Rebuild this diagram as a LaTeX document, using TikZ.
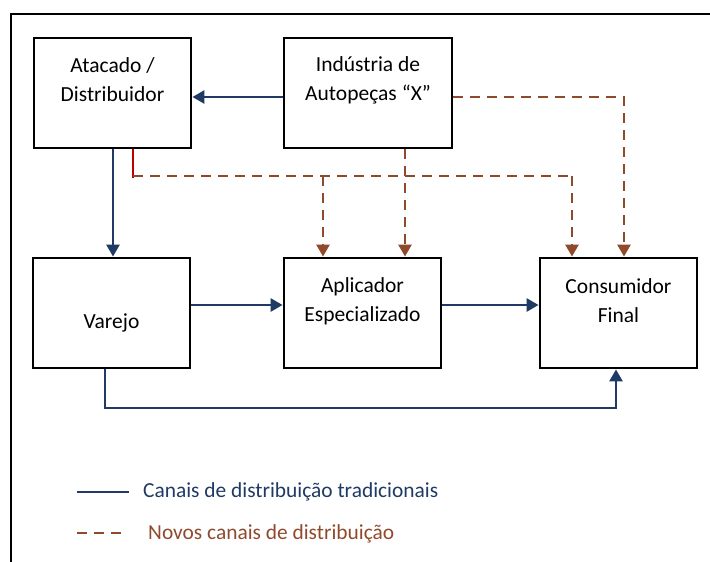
\documentclass[tikz,border=0pt]{standalone}
\usepackage{fontspec}
\setmainfont{Carlito}
\usetikzlibrary{arrows.meta}
\definecolor{navy}{HTML}{1F3A64}
\definecolor{brownc}{HTML}{8F4A2C}
\definecolor{redc}{HTML}{C00000}
\begin{document}
\begin{tikzpicture}[x=1pt,y=-1pt,
  box/.style={draw=black,line width=2.8pt,minimum width=157pt,minimum height=110pt,inner sep=0pt},
  lbl/.style={align=center,font=\fontsize{21.5}{29}\selectfont,inner sep=0pt},
  trad/.style={draw=navy,line width=2.6pt,-{Triangle[width=13pt,length=12pt]}},
  trl/.style={draw=navy,line width=2.6pt},
  novo/.style={draw=brownc,line width=2.6pt,dash pattern=on 10pt off 7pt,-{Triangle[width=13pt,length=12pt]}},
  novl/.style={draw=brownc,line width=2.6pt,dash pattern=on 10pt off 7pt},
  leg/.style={font=\fontsize{21.4}{25}\selectfont,anchor=base west,inner sep=0pt}]
\useasboundingbox (0,0) rectangle (710,562);
\draw[line width=2.8pt] (11,580) -- (11,14) -- (730,14);
% boxes
\node[box] (atac) at (112.5,93) {};
\node[box,minimum width=168pt] (ind) at (368,93) {};
\node[box] (var) at (111.5,313) {};
\node[box] (apl) at (362.5,313) {};
\node[box] (cons) at (618.5,313) {};
% labels
\node[lbl] (atacT) at (112.5,80) {Atacado /\\Distribuidor};
\node[lbl] (indT) at (368,80) {Indústria de\\Autopeças “X”};
\node[lbl] (varT) at (111.5,323) {Varejo};
\node[lbl] (aplT) at (362.5,301) {Aplicador\\Especializado};
\node[lbl] (consT) at (618.5,301) {Consumidor\\Final};
% traditional channels
\draw[trad] (ind.west |- 0,97) -- (atac.east |- 0,97);
\draw[trad] (atac.south -| 113,0) -- (var.north -| 113,0);
\draw[trad] (var.east |- 0,305) -- (apl.west |- 0,305);
\draw[trad] (apl.east |- 0,305) -- (cons.west |- 0,305);
\coordinate (v1) at (105,408);
\coordinate (v2) at (616,408);
\draw[trad] (var.south -| v1) -- (v1) -- (v2) -- (cons.south -| v2);
% new channels
\coordinate (d1) at (133,176);
\coordinate (d2) at (572,176);
\draw[redc,line width=2.6pt] (atac.south -| d1) -- ([yshift=-2pt]d1);
\draw[novl] (d1) -- (d2);
\draw[novo] (d2) -- (cons.north -| d2);
\coordinate (d3) at (323,176);
\draw[novo] (d3) -- (apl.north -| d3);
\coordinate (d4) at (405,176);
\draw[novo] (ind.south -| d4) -- (apl.north -| d4);
\coordinate (d5) at (624,97);
\draw[novo] (ind.east |- d5) -- (d5) -- (cons.north -| d5);
% legend
\coordinate (l1a) at (77,492);
\coordinate (l1b) at (129,492);
\draw[trl] (l1a) -- (l1b);
\node[leg,text=navy] (leg1) at (143,497) {Canais de distribuição tradicionais};
\coordinate (l2a) at (77,533);
\coordinate (l2b) at (127,533);
\draw[novl] (l2a) -- (l2b);
\node[leg,text=brownc] (leg2) at (148,539) {Novos canais de distribuição};
\end{tikzpicture}
\end{document}
